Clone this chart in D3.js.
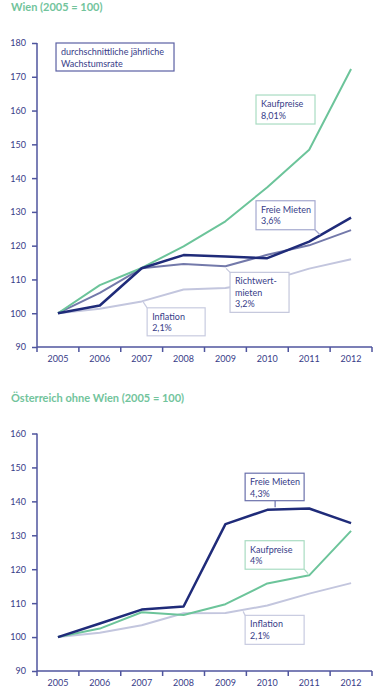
<!DOCTYPE html>
<html>
<head>
<meta charset="utf-8">
<script src="https://cdn.jsdelivr.net/npm/d3@7"></script>
<style>
  body { margin: 0; background: #fff; }
  svg text { font-family: Lato, "Open Sans", sans-serif; }
</style>
</head>
<body>
<div id="chart"></div>
<script>
// data (index 2005 = 100)
var years = ["2005", "2006", "2007", "2008", "2009", "2010", "2011", "2012"];

var wienKauf  = [100, 108.3, 113.4, 119.8, 127.2, 137.3, 148.4, 172.3];
var wienFrei  = [100, 102.3, 113.3, 117.2, 116.8, 116.3, 121.2, 128.3];
var wienRicht = [100, 106.0, 113.3, 114.6, 113.9, 117.3, 120.1, 124.6];
var wienInfl  = [100, 101.3, 103.5, 107.0, 107.5, 109.5, 113.2, 116.0];

var oeFrei = [100, 104.0, 108.1, 109.0, 133.3, 137.5, 137.9, 133.6];
var oeKauf = [100, 102.5, 107.3, 106.5, 109.7, 115.8, 118.2, 131.3];
var oeInfl = [100, 101.3, 103.5, 107.0, 107.1, 109.3, 112.8, 115.9];

var wienTicks = [90, 100, 110, 120, 130, 140, 150, 160, 170, 180];
var oeTicks   = [90, 100, 110, 120, 130, 140, 150, 160];

var wienTitle = "Wien (2005 = 100)";
var oeTitle   = "Österreich ohne Wien (2005 = 100)";

// colours
var cGreen = "#6cc49a", cNavy = "#1f2b79", cSlate = "#7379aa", cLight = "#c3c6de";
var cAxis = "#4f559e", cText = "#373c88";

var svg = d3.select("#chart")
            .append("svg")
            .attr("width", 386)
            .attr("height", 700);

function drawChart(opt) {
  var x = d3.scaleBand()
            .domain(years)
            .range([37, 372]);
  var step = x.step();
  var y = d3.scaleLinear()
            .domain([90, d3.max(opt.ticks)])
            .range([opt.bottom, opt.top]);

  var g = svg.append("g");

  // title
  g.append("text")
   .attr("x", 11)
   .attr("y", opt.titleY)
   .attr("fill", "#72c49c")
   .attr("font-size", 11)
   .attr("font-weight", "bold")
   .text(opt.title);

  // y axis
  var yAxis = d3.axisLeft(y)
                .tickValues(opt.ticks)
                .tickSize(5)
                .tickPadding(6);
  var ya = g.append("g")
            .attr("transform", "translate(37,0)")
            .call(yAxis);

  // x axis: ticks at band edges, labels at band centres
  var edges = d3.range(years.length + 1).map(function(i) { return 37 + i * step; });
  var xa = g.append("g");
  xa.append("line")
    .attr("x1", 37).attr("x2", 372)
    .attr("y1", opt.bottom).attr("y2", opt.bottom);
  xa.selectAll(".tk")
    .data(edges)
    .enter()
    .append("line")
    .attr("x1", function(d) { return d; })
    .attr("x2", function(d) { return d; })
    .attr("y1", opt.bottom)
    .attr("y2", opt.bottom + 5);
  xa.selectAll("text")
    .data(years)
    .enter()
    .append("text")
    .attr("x", function(d) { return x(d) + step / 2; })
    .attr("y", opt.bottom + 15)
    .attr("text-anchor", "middle")
    .text(function(d) { return d; });

  [ya, xa].forEach(function(a) {
    a.select(".domain").remove();
    a.selectAll("line").attr("stroke", cAxis).attr("stroke-width", 1.5);
    a.selectAll("text").attr("fill", cText).attr("font-size", 9)
     .attr("font-family", "Lato, sans-serif");
  });
  g.append("line")
   .attr("x1", 37).attr("x2", 37)
   .attr("y1", opt.top).attr("y2", opt.bottom)
   .attr("stroke", cAxis).attr("stroke-width", 1.5);

  // lines
  var line = d3.line()
               .x(function(d, i) { return x(years[i]) + step / 2; })
               .y(function(d) { return y(d); });
  opt.series.forEach(function(s) {
    g.append("path")
     .datum(s.values)
     .attr("fill", "none")
     .attr("stroke", s.color)
     .attr("stroke-width", s.width)
     .attr("stroke-linejoin", "round")
     .attr("d", line);
  });

  // annotation boxes (position given as band index + value)
  opt.notes.forEach(function(n) {
    var bx = 37 + n.at * step, by = y(n.val);
    var b = g.append("g").attr("transform", "translate(" + bx + "," + by + ")");
    if (n.lead) {
      b.append("line")
       .attr("x1", n.lead[0]).attr("y1", n.lead[1])
       .attr("x2", n.lead[2]).attr("y2", n.lead[3])
       .attr("stroke", n.border).attr("stroke-width", 1.2);
    }
    b.append("rect")
     .attr("width", n.w).attr("height", n.h)
     .attr("fill", "#fff")
     .attr("stroke", n.border)
     .attr("stroke-width", 1.2);
    n.lines.forEach(function(t, i) {
      b.append("text")
       .attr("x", 5)
       .attr("y", 12 + i * 11.5)
       .attr("fill", cText)
       .attr("font-size", 9)
       .text(t);
    });
  });
}

drawChart({
  title: wienTitle, titleY: 11, top: 43, bottom: 347, ticks: wienTicks,
  series: [
    {values: wienInfl, color: cLight, width: 2},
    {values: wienRicht, color: cSlate, width: 2},
    {values: wienKauf, color: cGreen, width: 2},
    {values: wienFrei, color: cNavy, width: 2.5}
  ],
  notes: [
    {lines: ["durchschnittliche jährliche", "Wachstumsrate"], at: 0.454, val: 180, w: 118, h: 28, border: "#5b60a3"},
    {lines: ["Kaufpreise", "8,01%"], at: 5.23, val: 164.6, w: 59, h: 29, border: "#a9dcc2"},
    {lines: ["Freie Mieten", "3,6%"], at: 5.23, val: 133.3, w: 59, h: 29, border: "#a5a9cf", lead: [59, 29, 64, 34]},
    {lines: ["Richtwert-", "mieten", "3,2%"], at: 4.61, val: 112.1, w: 59, h: 40, border: "#c4c7dc", lead: [0, 0, -4, -4]},
    {lines: ["Inflation", "2,1%"], at: 2.63, val: 101.6, w: 58, h: 28, border: "#c8cbe0", lead: [0, 0, -4, -6]}
  ]
});

drawChart({
  title: oeTitle, titleY: 402, top: 433.5, bottom: 671, ticks: oeTicks,
  series: [
    {values: oeInfl, color: cLight, width: 2},
    {values: oeKauf, color: cGreen, width: 2},
    {values: oeFrei, color: cNavy, width: 2.5}
  ],
  notes: [
    {lines: ["Freie Mieten", "4,3%"], at: 4.97, val: 148.3, w: 59, h: 27.5, border: "#6a70ab", lead: [30, 27.5, 30, 34]},
    {lines: ["Kaufpreise", "4%"], at: 4.97, val: 128.4, w: 59, h: 28.5, border: "#a9dcc2", lead: [59, 28.5, 63, 33]},
    {lines: ["Inflation", "2,1%"], at: 4.97, val: 106.4, w: 59, h: 29, border: "#c8cbe0", lead: [0, 0, -2, -4]}
  ]
});
</script>
</body>
</html>
